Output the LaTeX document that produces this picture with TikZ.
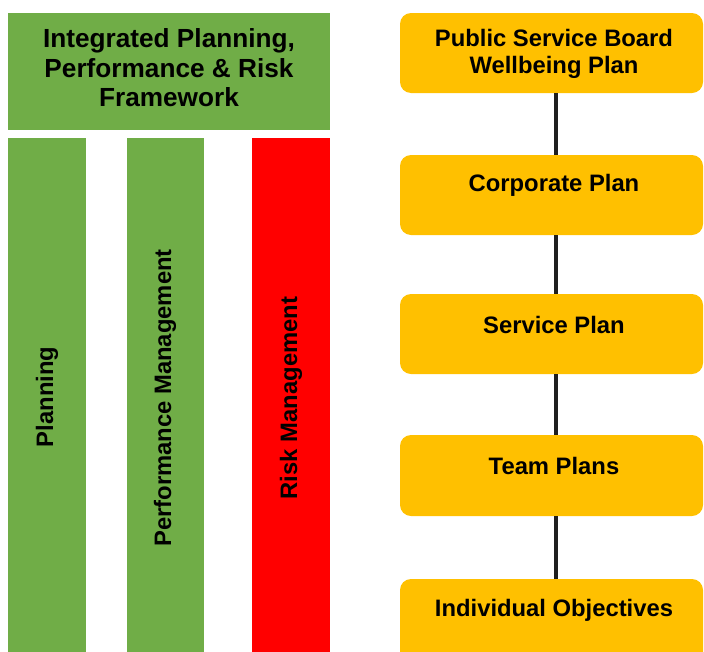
\documentclass[tikz,border=0pt]{standalone}
\usepackage{fontspec}
\setmainfont{Liberation Sans}
\definecolor{fwgreen}{HTML}{70AD47}
\definecolor{fwred}{HTML}{FF0000}
\definecolor{fworange}{HTML}{FFC000}
\begin{document}
\begin{tikzpicture}[x=1pt,y=-1pt,
  bar/.style={draw=none,inner sep=0pt,anchor=north west},
  planbox/.style={fill=fworange,draw=none,rounded corners=11pt,inner sep=0pt,minimum width=303pt},
  lbl/.style={font=\fontsize{23.8}{27}\selectfont\bfseries,align=center,inner sep=0pt,text=black},
  titlelbl/.style={font=\fontsize{26.2}{29.5}\selectfont\bfseries,align=center,inner sep=0pt,text=black},
  link/.style={line width=3.6pt,draw=black!88}]
\useasboundingbox (0,0) rectangle (704,651);
% left framework
\node[bar,fill=fwgreen,minimum width=322pt,minimum height=117pt] (fw) at (8,13) {};
\node[titlelbl] (fwt) at (169,68) {Integrated Planning,\\Performance \& Risk\\Framework};
\node[bar,fill=fwgreen,minimum width=78pt,minimum height=530pt] (pl) at (8,138) {};
\node[bar,fill=fwgreen,minimum width=77pt,minimum height=530pt] (pm) at (127,138) {};
\node[bar,fill=fwred,minimum width=78pt,minimum height=530pt] (rm) at (252,138) {};
\node[lbl,rotate=90] (plt) at (47,397) {Planning};
\node[lbl,rotate=90] (pmt) at (165,398) {Performance Management};
\node[lbl,rotate=90] (rmt) at (291,398) {Risk Management};
% right plan hierarchy
\node[planbox,minimum height=80pt] (b1) at (551.5,53) {};
\node[planbox,minimum height=80pt] (b2) at (551.5,195) {};
\node[planbox,minimum height=80pt] (b3) at (551.5,334) {};
\node[planbox,minimum height=81pt] (b4) at (551.5,475.5) {};
\node[planbox,minimum height=90pt] (b5) at (551.5,624) {};
\node[lbl] (b1t) at (554,53.5) {Public Service Board\\Wellbeing Plan};
\node[lbl] (b2t) at (554,185) {Corporate Plan};
\node[lbl] (b3t) at (554,325) {Service Plan};
\node[lbl] (b4t) at (554,466) {Team Plans};
\node[lbl] (b5t) at (554,610) {Individual Objectives};
\draw[link] (b1.south -| 556,0) -- (b2.north -| 556,0);
\draw[link] (b2.south -| 556,0) -- (b3.north -| 556,0);
\draw[link] (b3.south -| 556,0) -- (b4.north -| 556,0);
\draw[link] (b4.south -| 556,0) -- (b5.north -| 556,0);
\end{tikzpicture}
\end{document}
